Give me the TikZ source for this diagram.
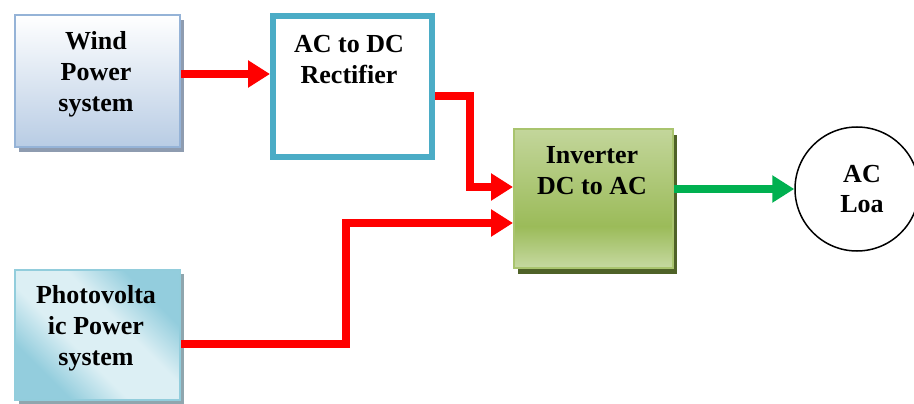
\documentclass[tikz,border=0pt]{standalone}
\usepackage{fontspec}
\setmainfont{Liberation Serif}
\usetikzlibrary{arrows.meta,shadows}
\definecolor{windborder}{HTML}{95B3D7}
\definecolor{windbot}{HTML}{B8CCE4}
\definecolor{windshadow}{HTML}{8E9CB0}
\definecolor{pvdark}{HTML}{93CDDD}
\definecolor{pvlight}{HTML}{DCEFF4}
\definecolor{pvborder}{HTML}{92CDDC}
\definecolor{pvshadow}{HTML}{8FA6AE}
\definecolor{rectborder}{HTML}{4BACC6}
\definecolor{invtop}{HTML}{C3D69B}
\definecolor{invdark}{HTML}{9BBB59}
\definecolor{invbot}{HTML}{C6D9A1}
\definecolor{invborder}{HTML}{A9C46E}
\definecolor{invshadow}{HTML}{4F6228}
\definecolor{arrred}{HTML}{FF0000}
\definecolor{arrgreen}{HTML}{00B050}
\pgfdeclareverticalshading{invshade}{100bp}{color(0bp)=(invbot); color(25bp)=(invbot); color(40bp)=(invdark); color(75bp)=(invtop); color(100bp)=(invtop)}
\pgfdeclareverticalshading{pvshade}{100bp}{color(0bp)=(pvdark); color(28bp)=(pvdark); color(42bp)=(pvlight); color(58bp)=(pvlight); color(72bp)=(pvdark); color(100bp)=(pvdark)}
\tikzset{
  lbl/.style={font=\fontsize{26}{31}\selectfont\bfseries, align=center, inner sep=0pt, anchor=north},
  windbox/.style={draw=windborder, line width=2pt, top color=white, bottom color=windbot,
    drop shadow={fill=windshadow, opacity=1, shadow xshift=4pt, shadow yshift=-5pt}},
  pvbox/.style={draw=pvborder, line width=2pt, shading=pvshade, shading angle=-45,
    drop shadow={fill=pvshadow, opacity=1, shadow xshift=4pt, shadow yshift=-4pt}},
  rectbox/.style={draw=rectborder, line width=6pt, fill=white},
  invbox/.style={draw=invborder, line width=2pt, shading=invshade,
    drop shadow={fill=invshadow, opacity=1, shadow xshift=4pt, shadow yshift=-6pt}},
  loadbox/.style={circle, draw=black, line width=1.5pt, fill=white},
  redarr/.style={draw=arrred, line width=8pt, -{Triangle[length=22pt,width=26pt]}},
  greenarr/.style={draw=arrgreen, line width=8pt, -{Triangle[length=22pt,width=26pt]}},
}
\begin{document}
\begin{tikzpicture}[x=1pt,y=-1pt]
\useasboundingbox (0,0) rectangle (914,404);
% boxes
\node[windbox, minimum width=165pt, minimum height=132pt, anchor=north west, inner sep=0pt] (wind) at (14,14) {};
\node[pvbox, minimum width=165pt, minimum height=130pt, anchor=north west, inner sep=0pt] (pv) at (14,269) {};
\node[rectbox, minimum width=159pt, minimum height=141pt, anchor=north west, inner sep=0pt, outer sep=3pt] (rect) at (270,13) {};
\node[invbox, minimum width=159pt, minimum height=139pt, anchor=north west, inner sep=0pt] (inv) at (513,128) {};
\node[loadbox, minimum size=124pt, inner sep=0pt] (load) at (857,189) {};
% labels
\node[lbl] (windtxt) at (96,27.3) {\strut Wind\\Power\\system};
\node[lbl] (recttxt) at (349,30.3) {\strut AC to DC\\Rectifier};
\node[lbl] (invtxt) at (592,141.3) {\strut Inverter\\DC to AC};
\node[lbl, font=\fontsize{26}{30}\selectfont\bfseries] (loadtxt) at (862,161) {\strut AC\\Loa};
\node[lbl] (pvtxt) at (96,281.3) {\strut Photovolta\\ic Power\\system};
% junctions
\coordinate (j1) at (470,187);
\coordinate (j2) at (346,223);
% connectors
\draw[redarr] ([yshift=7pt]wind.east) -- ([yshift=7pt]wind.east -| rect.west);
\draw[redarr] ([yshift=-9.5pt]rect.east) -| (j1) -- (j1 -| inv.west);
\draw[redarr] ([yshift=-9pt]pv.east) -| (j2) -- (j2 -| inv.west);
\draw[greenarr] (load.west -| inv.east) -- (load.west);
\end{tikzpicture}
\end{document}
